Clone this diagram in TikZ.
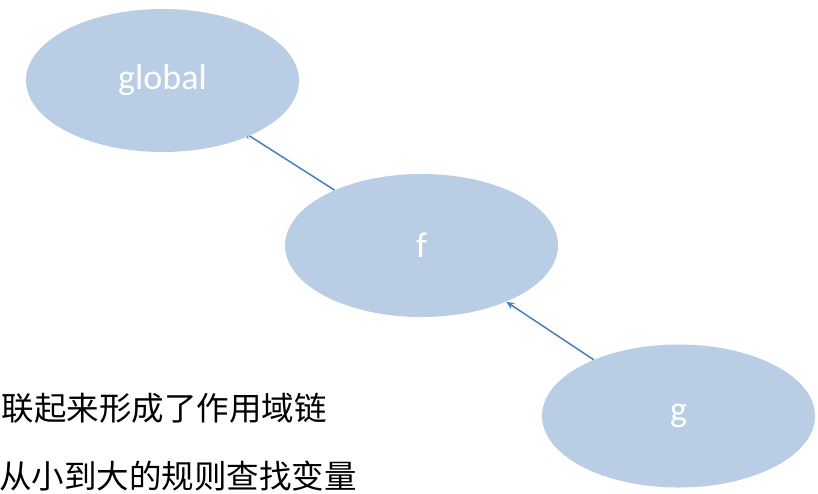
\documentclass[tikz,border=0pt]{standalone}
\usepackage{fontspec}
\usepackage{tikz}
\usetikzlibrary{shapes.geometric,arrows.meta,backgrounds}
\setmainfont{Carlito}
\newfontfamily\cjk{Noto Sans CJK SC}
\definecolor{scopefill}{HTML}{B9CDE5}
\definecolor{scopeline}{HTML}{4A7EBB}
\tikzset{
    scopenode/.style={ellipse, fill=scopefill, minimum width=273pt, minimum height=143pt,
        inner sep=0pt, text=white, font=\fontsize{36}{40}\selectfont},
    chainarrow/.style={-{Stealth[length=8pt,width=7pt]}, line width=1.5pt, scopeline},
    note/.style={anchor=east, inner sep=0pt, font=\cjk\fontsize{32.5}{36}\selectfont}
}

\begin{document}
\begin{tikzpicture}[x=1pt,y=-1pt]
        \useasboundingbox (0,0) rectangle (818,493);

        \node[scopenode] (global) at (162.5,80.5) {global};
        \node[scopenode] (f) at (421.5,245.5) {f};
        \node[scopenode] (g) at (678.5,416) {g};

        \node[note] (line1) at (327,408) {联起来形成了作用域链};
        \node[note] (line2) at (357,476) {从小到大的规则查找变量};

        % links between the scopes
        \begin{scope}[on background layer]
            \draw[chainarrow, shorten >=-7pt] (f) -- (global);
            \draw[chainarrow] (g) -- (f);
        \end{scope}
    \end{tikzpicture}
\end{document}
